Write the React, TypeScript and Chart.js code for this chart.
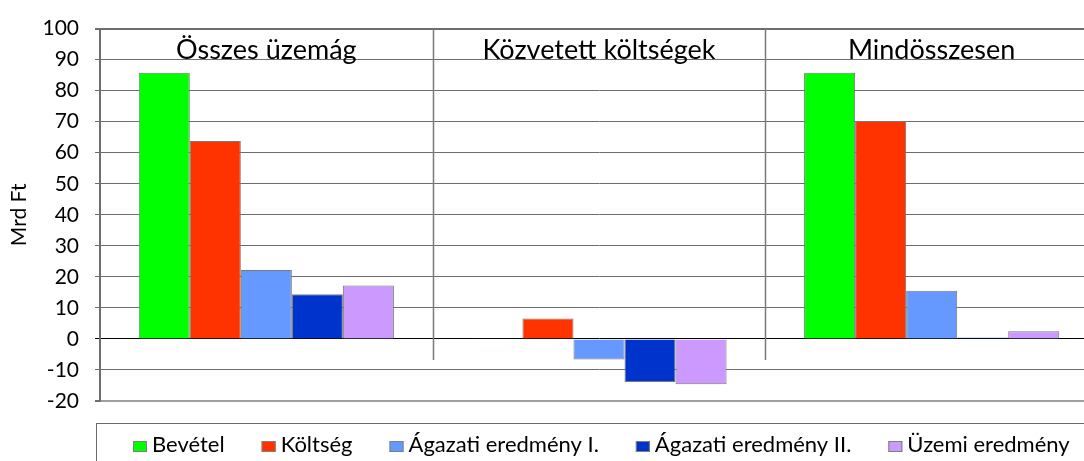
import { useEffect, useRef } from "react";
import { Chart, registerables } from "chart.js";

Chart.register(...registerables);

const categories = ["Összes üzemág", "Közvetett költségek", "Mindösszesen"];
const seriesLabels = ["Bevétel", "Költség", "Ágazati eredmény I.", "Ágazati eredmény II.", "Üzemi eredmény"];
const bevetel = [85.8, 0.2, 85.8];
const koltseg = [63.8, 6.6, 70.2];
const agazati1 = [22.2, -6.6, 15.5];
const agazati2 = [14.4, -13.9, 0.5];
const uzemi = [17.2, -14.6, 2.5];
const seriesValues = [bevetel, koltseg, agazati1, agazati2, uzemi];
const seriesColors = ["#00FF00", "#FF3300", "#6699FF", "#0033CC", "#CC99FF"];
const yMin = -20;
const yMax = 100;
const yStep = 10;
const yTitle = "Mrd Ft";

const FONT = "Lato, 'Open Sans', sans-serif";

const categoryLabelPlugin = {
  id: "categoryLabels",
  afterDatasetsDraw(chart: any) {
    const { ctx, chartArea, scales } = chart;
    const x = scales.x;
    const y = scales.y;
    ctx.save();
    ctx.strokeStyle = "#7a7a7a";
    ctx.lineWidth = 1.5;
    const bottomY = y.getPixelForValue(0) + 21;
    for (let i = 0; i < categories.length - 1; i++) {
      const px = Math.round((x.getPixelForValue(i) + x.getPixelForValue(i + 1)) / 2) + 0.5;
      ctx.beginPath();
      ctx.moveTo(px, chartArea.top);
      ctx.lineTo(px, bottomY);
      ctx.stroke();
    }
    ctx.fillStyle = "#000";
    ctx.font = `27px ${FONT}`;
    ctx.textAlign = "center";
    ctx.textBaseline = "alphabetic";
    categories.forEach((c, i) => {
      ctx.fillText(c, x.getPixelForValue(i), chartArea.top + 30);
    });
    ctx.restore();
  },
};

const boxLegendPlugin = {
  id: "boxLegend",
  afterDraw(chart: any) {
    const { ctx } = chart;
    ctx.save();
    ctx.strokeStyle = "#6a6a6a";
    ctx.lineWidth = 1;
    ctx.strokeRect(96.5, 423.5, 1100, 80);
    ctx.font = `22px ${FONT}`;
    ctx.textBaseline = "alphabetic";
    ctx.textAlign = "left";
    let cx = 133;
    chart.data.datasets.forEach((ds: any) => {
      ctx.fillStyle = ds.backgroundColor;
      ctx.fillRect(cx, 441, 14, 11);
      ctx.strokeStyle = "#7f7f7f";
      ctx.strokeRect(cx + 0.5, 441.5, 13, 10);
      ctx.fillStyle = "#000";
      const tx = cx + 19;
      ctx.fillText(ds.label, tx, 452);
      cx = tx + ctx.measureText(ds.label).width + 37;
    });
    ctx.restore();
  },
};

export default function App() {
  const ref = useRef<HTMLCanvasElement | null>(null);
  useEffect(() => {
    if (!ref.current) return;
    const chart = new Chart(ref.current, {
      type: "bar",
      data: {
        labels: categories,
        datasets: seriesLabels.map((l, i) => ({
          label: l,
          data: seriesValues[i],
          backgroundColor: seriesColors[i],
          borderColor: "#7a7a7a",
          borderWidth: 1,
          categoryPercentage: 0.767,
          barPercentage: 1,
        })),
      },
      options: {
        responsive: false,
        animation: false,
        devicePixelRatio: 1,
        layout: { padding: { top: 22, bottom: 60, left: 0, right: 2 } },
        plugins: {
          legend: { display: false },
          tooltip: { enabled: false },
        },
        scales: {
          x: {
            display: false,
            offset: true,
            grid: { display: false },
          },
          y: {
            min: yMin,
            max: yMax,
            afterFit: (s: any) => {
              s.width = 100;
            },
            ticks: {
              stepSize: yStep,
              color: "#000",
              padding: 16,
              font: { family: FONT, size: 21 },
            },
            title: {
              display: true,
              text: yTitle,
              color: "#000",
              font: { family: FONT, size: 21 },
              padding: { top: 7, bottom: 0 },
            },
            border: { color: "#6e6e6e", width: 2 },
            grid: {
              tickLength: 5,
              color: (c: any) =>
                c.tick && c.tick.value === 0 ? "#000" : c.tick && c.tick.value === yMin ? "#a0a0a0" : "#6e6e6e",
              tickColor: (c: any) => (c.tick && c.tick.value === 0 ? "#000" : "#6e6e6e"),
              lineWidth: (c: any) =>
                c.tick && (c.tick.value === yMin || c.tick.value === yMax) ? 2 : 1,
            },
          },
        },
      },
      plugins: [categoryLabelPlugin, boxLegendPlugin],
    });
    return () => chart.destroy();
  }, []);
  return (
    <div style={{ position: "absolute", left: 0, top: 0, width: 1084, height: 461, overflow: "hidden", background: "#fff" }}>
      <canvas ref={ref} width={1100} height={461} style={{ width: 1100, height: 461, display: "block" }} />
    </div>
  );
}
